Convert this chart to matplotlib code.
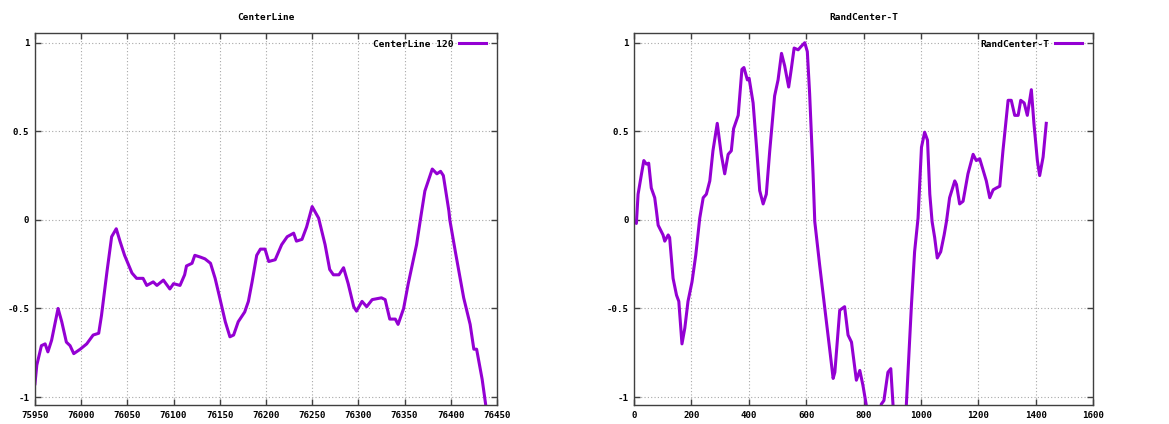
import matplotlib
matplotlib.use("Agg")
import matplotlib.pyplot as plt
from matplotlib.ticker import FuncFormatter

# CenterLine 120 (left panel)
center_x = [75950, 75952, 75957, 75961, 75964, 75968, 75975, 75979, 75984, 75988,
            75992, 75999, 76006, 76013, 76019, 76022, 76028, 76033, 76038, 76042,
            76047, 76055, 76060, 76067, 76071, 76078, 76082, 76089, 76096, 76100,
            76107, 76112, 76114, 76120, 76123, 76129, 76134, 76140, 76145, 76150,
            76156, 76161, 76165, 76170, 76177, 76181, 76185, 76190, 76194, 76199,
            76203, 76210, 76217, 76223, 76230, 76233, 76239, 76244, 76250, 76257,
            76264, 76269, 76273, 76279, 76284, 76289, 76295, 76298, 76304, 76309,
            76315, 76325, 76329, 76334, 76340, 76343, 76349, 76354, 76363, 76368,
            76372, 76380, 76385, 76389, 76392, 76398, 76399, 76405, 76414, 76421,
            76425, 76428, 76434, 76438, 76441]
center_y = [-0.925, -0.82, -0.71, -0.70, -0.745, -0.68, -0.50, -0.575, -0.69, -0.71,
            -0.755, -0.73, -0.70, -0.65, -0.64, -0.54, -0.29, -0.095, -0.05, -0.12,
            -0.20, -0.30, -0.33, -0.33, -0.37, -0.35, -0.37, -0.34, -0.39, -0.36,
            -0.37, -0.31, -0.26, -0.245, -0.20, -0.21, -0.22, -0.245, -0.33, -0.44,
            -0.575, -0.66, -0.65, -0.575, -0.52, -0.46, -0.35, -0.20, -0.165, -0.165,
            -0.235, -0.225, -0.14, -0.095, -0.075, -0.12, -0.11, -0.04, 0.075, 0.01,
            -0.14, -0.28, -0.31, -0.31, -0.27, -0.36, -0.49, -0.515, -0.46, -0.49,
            -0.45, -0.44, -0.45, -0.56, -0.56, -0.59, -0.50, -0.36, -0.14, 0.03,
            0.163, 0.287, 0.26, 0.274, 0.25, 0.05, 0.0, -0.18, -0.44, -0.59,
            -0.73, -0.73, -0.90, -1.05, -1.10]

# RandCenter-T (right panel)
rand_x = [0, 8, 14, 26, 34, 43, 51, 60, 72, 78, 84, 101, 107, 119, 124, 136, 148, 156,
          167, 177, 188, 202, 215, 229, 241, 252, 264, 275, 290, 304, 316, 328, 339,
          347, 363, 376, 383, 395, 401, 415, 427, 438, 450, 461, 473, 490, 502, 514,
          525, 539, 548, 558, 572, 583, 595, 604, 612, 624, 630, 647, 665, 682, 694,
          700, 717, 734, 746, 758, 775, 787, 798, 810, 830, 850, 862, 871, 885, 895,
          903, 920, 935, 949, 967, 978, 990, 1002, 1013, 1023, 1031, 1039, 1048, 1057,
          1069, 1081, 1089, 1100, 1118, 1124, 1135, 1147, 1164, 1182, 1193, 1205, 1217,
          1228, 1240, 1252, 1263, 1275, 1286, 1304, 1315, 1327, 1339, 1348, 1360, 1371,
          1385, 1394, 1406, 1414, 1426, 1437]
rand_y = [-0.01, -0.02, 0.145, 0.26, 0.335, 0.315, 0.32, 0.18, 0.125, 0.05, -0.03,
          -0.085, -0.12, -0.085, -0.10, -0.33, -0.425, -0.46, -0.70, -0.61, -0.46,
          -0.35, -0.20, 0.01, 0.125, 0.145, 0.22, 0.39, 0.545, 0.37, 0.26, 0.37, 0.39,
          0.515, 0.59, 0.85, 0.86, 0.79, 0.80, 0.66, 0.41, 0.165, 0.09, 0.145, 0.39,
          0.70, 0.79, 0.94, 0.87, 0.75, 0.85, 0.97, 0.96, 0.98, 1.00, 0.95, 0.715,
          0.26, -0.01, -0.255, -0.50, -0.73, -0.895, -0.86, -0.51, -0.49, -0.65,
          -0.69, -0.905, -0.85, -0.935, -1.05, -1.2, -1.15, -1.04, -1.02, -0.86,
          -0.84, -1.05, -1.3, -1.25, -1.05, -0.48, -0.18, 0.01, 0.41, 0.495, 0.45,
          0.145, -0.01, -0.10, -0.215, -0.18, -0.085, -0.01, 0.125, 0.22, 0.20, 0.09,
          0.105, 0.26, 0.37, 0.335, 0.345, 0.28, 0.22, 0.125, 0.17, 0.18, 0.19, 0.39,
          0.675, 0.675, 0.59, 0.59, 0.675, 0.66, 0.59, 0.735, 0.545, 0.335, 0.25,
          0.355, 0.545]

y_ticks = [-1, -0.5, 0, 0.5, 1]
center_xticks = [75950, 76000, 76050, 76100, 76150, 76200, 76250, 76300, 76350, 76400, 76450]
rand_xticks = [0, 200, 400, 600, 800, 1000, 1200, 1400, 1600]

color = "#9400d3"
font = "DejaVu Sans Mono"
plt.rcParams["axes.unicode_minus"] = False

fig = plt.figure(figsize=(11.69, 4.24), dpi=100)
ax1 = fig.add_axes([0.0299, 0.0448, 0.3952, 0.8774])
ax2 = fig.add_axes([0.5424, 0.0448, 0.3926, 0.8774])

panels = [
    (ax1, center_x, center_y, "CenterLine", "CenterLine 120", center_xticks, (75950, 76450)),
    (ax2, rand_x, rand_y, "RandCenter-T", "RandCenter-T", rand_xticks, (0, 1600)),
]

for ax, xs, ys, title, label, xt, xl in panels:
    ax.plot(xs, ys, color=color, lw=2.2, label=label)
    ax.set_xlim(*xl)
    ax.set_ylim(-1.045, 1.055)
    ax.set_xticks(xt)
    ax.set_yticks(y_ticks)
    fmt = FuncFormatter(lambda v, p: "%g" % v)
    ax.xaxis.set_major_formatter(fmt)
    ax.yaxis.set_major_formatter(fmt)
    ax.tick_params(direction="in", length=4, width=1, color="#404040",
                   top=True, right=True, labelsize=6.6, pad=4)
    for t in ax.get_xticklabels() + ax.get_yticklabels():
        t.set_fontfamily(font)
        t.set_fontweight("bold")
    ax.grid(True, ls=(0, (1, 2)), color="#a8a8a8", lw=0.8)
    for s in ax.spines.values():
        s.set_color("#404040")
        s.set_linewidth(1)
    ax.set_title(title, fontsize=6.8, family=font, fontweight="bold", pad=9)
    # gnuplot style key: text first, sample line after it
    ax.legend(loc="upper right", bbox_to_anchor=(0.991, 1.0), frameon=False,
              markerfirst=False, handlelength=2.9, handletextpad=0.6,
              borderaxespad=0.3,
              prop={"family": font, "weight": "bold", "size": 6.8})

fig.savefig("out.png", dpi=100)
